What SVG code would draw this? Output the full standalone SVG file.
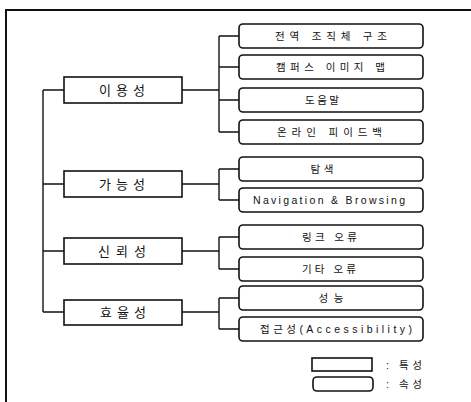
<svg xmlns="http://www.w3.org/2000/svg" width="471" height="402" viewBox="0 0 471 402">
<style>
  .frame{fill:none;stroke:#111;stroke-width:2}
  .cat rect{fill:#fff;stroke:#111;stroke-width:1.6}
  .attr rect{fill:#fff;stroke:#111;stroke-width:1.6}
  .conn path{fill:none;stroke:#111;stroke-width:1.4}
  text{font-family:"Liberation Sans","Noto Sans CJK KR",sans-serif;fill:#111;text-anchor:middle;dominant-baseline:central}
  .ct{font-size:13px}
  .at{font-size:10.5px}
  .lg{font-size:10.5px;text-anchor:start}
</style>
<path class="frame" d="M6,402 V10 H471"/>
<g id="connectors" class="conn">
  <path d="M43,90 V312 M43,90 H64 M43,184 H64 M43,251 H64 M43,312 H64"/>
  <path d="M182,90 H219 M219,36 V132 M219,36 H239 M219,67 H239 M219,100 H239 M219,132 H239"/>
  <path d="M182,184 H219 M219,169 V200 M219,169 H239 M219,200 H239"/>
  <path d="M182,251 H219 M219,237 V269 M219,237 H239 M219,269 H239"/>
  <path d="M182,312 H219 M219,298 V329 M219,298 H239 M219,329 H239"/>
</g>
<g id="c1" class="cat"><rect x="64" y="77" width="118" height="26"/><text class="ct" x="122" y="90" textLength="46">이용성</text></g>
<g id="c2" class="cat"><rect x="64" y="171" width="118" height="26"/><text class="ct" x="122" y="184" textLength="46">가능성</text></g>
<g id="c3" class="cat"><rect x="64" y="238" width="118" height="26"/><text class="ct" x="122" y="251" textLength="48">신뢰성</text></g>
<g id="c4" class="cat"><rect x="64" y="300" width="118" height="25"/><text class="ct" x="123" y="312.5" textLength="46">효율성</text></g>
<g id="a1" class="attr"><rect x="239" y="24" width="184" height="24" rx="4"/><text class="at" x="331" y="36" textLength="112">전역 조직체 구조</text></g>
<g id="a2" class="attr"><rect x="239" y="55" width="184" height="24" rx="4"/><text class="at" x="330.5" y="67" textLength="109">캠퍼스 이미지 맵</text></g>
<g id="a3" class="attr"><rect x="239" y="88" width="184" height="24" rx="4"/><text class="at" x="322" y="100" textLength="34">도움말</text></g>
<g id="a4" class="attr"><rect x="239" y="120" width="184" height="24" rx="4"/><text class="at" x="329.5" y="132" textLength="105">온라인 피이드백</text></g>
<g id="a5" class="attr"><rect x="239" y="157" width="184" height="24" rx="4"/><text class="at" x="322" y="169" textLength="23">탐색</text></g>
<g id="a6" class="attr"><rect x="239" y="188" width="184" height="24" rx="4"/><text class="at" x="329" y="200" textLength="152">Navigation &amp; Browsing</text></g>
<g id="a7" class="attr"><rect x="239" y="225" width="184" height="24" rx="4"/><text class="at" x="329.5" y="237" textLength="55">링크 오류</text></g>
<g id="a8" class="attr"><rect x="239" y="257" width="184" height="24" rx="4"/><text class="at" x="329" y="269" textLength="54">기타 오류</text></g>
<g id="a9" class="attr"><rect x="239" y="286" width="184" height="24" rx="4"/><text class="at" x="331" y="298" textLength="25">성능</text></g>
<g id="a10" class="attr"><rect x="239" y="317" width="184" height="24" rx="4"/><text class="at" x="336" y="329" textLength="152">접근성(Accessibility)</text></g>
<g id="legend">
  <rect x="312" y="358" width="60" height="13" fill="#fff" stroke="#111" stroke-width="1.6"/>
  <text class="lg" x="386" y="364.5" textLength="36">: 특성</text>
  <rect x="313" y="377" width="60" height="14" rx="4" fill="#fff" stroke="#111" stroke-width="1.6"/>
  <text class="lg" x="386" y="384" textLength="36">: 속성</text>
</g>
</svg>
